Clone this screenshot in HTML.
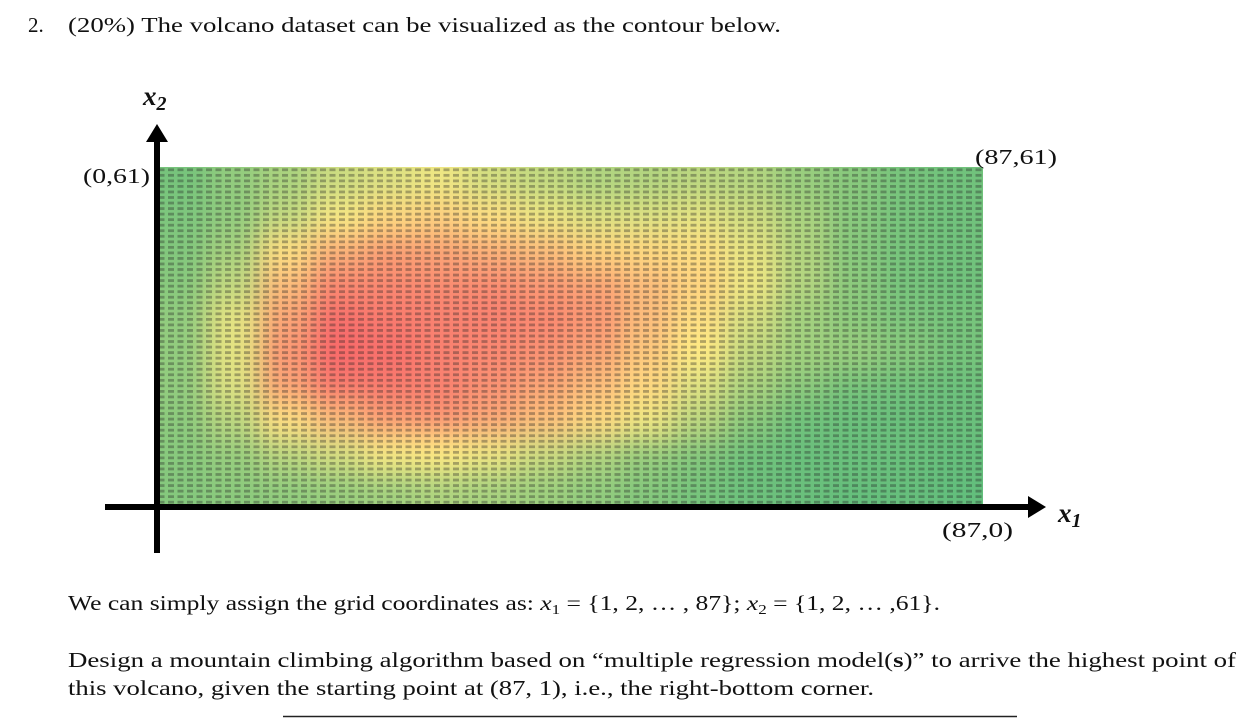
<!DOCTYPE html>
<html><head><meta charset="utf-8">
<style>
html,body{margin:0;padding:0;background:#fff;}
svg{display:block;}
text{font-family:"Liberation Serif","DejaVu Serif",serif;fill:#111;}
</style></head>
<body>
<svg id="chart" width="1252" height="719" viewBox="0 0 1252 719">
  <defs>
    <clipPath id="heatClip"><rect x="157" y="167" width="826" height="338"/></clipPath>
    <filter id="blur" x="-10%" y="-10%" width="120%" height="120%"><feGaussianBlur stdDeviation="13"/></filter>
    <pattern id="nums" patternUnits="userSpaceOnUse" x="157" y="167" width="9.5" height="5.54">
      <rect x="1.5" y="1.4" width="6" height="2.8" fill="#222" opacity="0.35"/>
    </pattern>
  </defs>
  <text x="28" y="32" font-size="21">2.</text>
  <text x="68" y="32" font-size="21" textLength="713" lengthAdjust="spacingAndGlyphs">(20%) The volcano dataset can be visualized as the contour below.</text>

  <g id="heat" clip-path="url(#heatClip)">
    <g id="cells" filter="url(#blur)"></g>
    <rect x="157" y="167" width="826" height="338" fill="url(#nums)"/>
  </g>

  <line x1="105" y1="507" x2="1030" y2="507" stroke="#000" stroke-width="6"/>
  <polygon points="1028,496 1046,507 1028,518" fill="#000"/>
  <line x1="157" y1="553" x2="157" y2="140" stroke="#000" stroke-width="6"/>
  <polygon points="146,142 157,124 168,142" fill="#000"/>

  <text x="143" y="105" font-size="27" font-weight="bold" font-style="italic">x<tspan font-size="20" dy="5">2</tspan></text>
  <text x="1058" y="522" font-size="27" font-weight="bold" font-style="italic">x<tspan font-size="20" dy="5">1</tspan></text>
  <text x="83" y="183" font-size="21" textLength="67" lengthAdjust="spacingAndGlyphs">(0,61)</text>
  <text x="975" y="164" font-size="21" textLength="82" lengthAdjust="spacingAndGlyphs">(87,61)</text>
  <text x="942" y="537" font-size="21" textLength="71" lengthAdjust="spacingAndGlyphs">(87,0)</text>

  <text x="68" y="610" font-size="21" textLength="872" lengthAdjust="spacingAndGlyphs">We can simply assign the grid coordinates as: <tspan font-style="italic">x</tspan><tspan font-size="14" dy="4">1</tspan><tspan dy="-4"> = {1, 2, … , 87}; </tspan><tspan font-style="italic">x</tspan><tspan font-size="14" dy="4">2</tspan><tspan dy="-4"> = {1, 2, … ,61}.</tspan></text>
  <text x="68" y="667" font-size="21" textLength="1168" lengthAdjust="spacingAndGlyphs">Design a mountain climbing algorithm based on “multiple regression model(<tspan font-weight="bold">s</tspan>)” to arrive the highest point of</text>
  <text x="68" y="695" font-size="21" textLength="806" lengthAdjust="spacingAndGlyphs">this volcano, given the starting point at (87, 1), i.e., the right-bottom corner.</text>
  <line x1="283" y1="716.5" x2="1017" y2="716.5" stroke="#222" stroke-width="1.5"/>
</svg>
<script>
// coarse heights (rows top->bottom, columns left->right)
const colCount = 16;
const row0 = [100,108,115,125,130,135,127,122,117,118,120,118,110,105,100,98];
const row1 = [102,108,122,138,148,152,145,135,130,130,132,126,115,105,100,98];
const row2 = [103,114,145,165,172,170,165,160,150,148,145,133,118,105,100,98];
const row3 = [105,122,160,182,182,180,180,175,170,160,150,135,118,106,100,98];
const row4 = [108,132,170,192,188,185,185,182,175,160,145,128,113,106,102,100];
const row5 = [108,132,175,195,192,185,182,178,170,155,140,122,113,110,105,100];
const row6 = [108,130,170,188,188,185,178,170,160,148,130,115,106,100,98,97];
const row7 = [106,120,145,160,172,175,168,158,148,135,120,106,98,96,96,96];
const row8 = [105,110,120,128,138,140,135,125,118,110,104,98,96,96,96,95];
const row9 = [104,106,108,110,113,116,114,111,108,104,100,97,96,95,95,94];
const rows = [row0,row1,row2,row3,row4,row5,row6,row7,row8,row9];

const X0=157, X1=983, Y0=167, Y1=505;
const cw=(X1-X0)/colCount, rh=(Y1-Y0)/rows.length;
function xPos(i){return X0+i*cw;}
function yPos(j){return Y0+j*rh;}
function lerp(a,b,t){return a+(b-a)*t;}
function color(v){
  const g=[99,190,123], y=[255,235,132], r=[248,105,107];
  let c;
  if(v<=140){const t=Math.max(0,(v-94)/(140-94));c=g.map((x,k)=>lerp(x,y[k],t));}
  else{const t=Math.min(1,(v-140)/(195-140));c=y.map((x,k)=>lerp(x,r[k],t));}
  return 'rgb('+c.map(Math.round).join(',')+')';
}
const ns='http://www.w3.org/2000/svg';
const cells=document.getElementById('cells');
for(let j=-2;j<rows.length+2;j++){
  for(let i=-2;i<colCount+2;i++){
    const jj=Math.min(rows.length-1,Math.max(0,j));
    const ii=Math.min(colCount-1,Math.max(0,i));
    const v=rows[jj][ii];
    const el=document.createElementNS(ns,'rect');
    el.setAttribute('x',xPos(i)-0.5);
    el.setAttribute('y',yPos(j)-0.5);
    el.setAttribute('width',cw+1);
    el.setAttribute('height',rh+1);
    el.setAttribute('fill',color(v));
    
    
    cells.appendChild(el);
  }
}
</script>
</body></html>
